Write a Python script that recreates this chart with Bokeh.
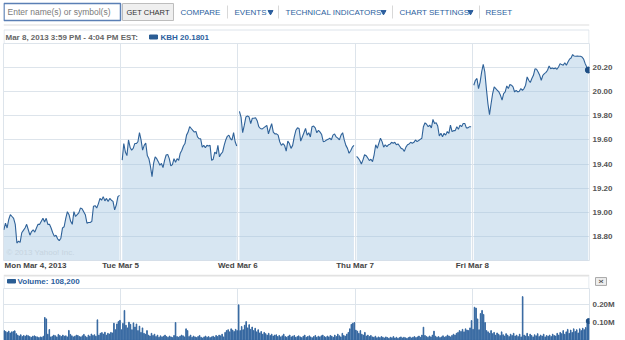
import numpy as np
from bokeh.plotting import figure
from bokeh.layouts import column
from bokeh.models import Range1d, FixedTicker, Label, Title
from bokeh.embed import file_html
from bokeh.resources import INLINE

FONT = "Liberation Sans"
LINK_BLUE = "#2d5f9e"
SERIES_BLUE = "#2f6299"
GRID = "#dde4eb"

# ---------------- data ----------------
day_labels = ["Mon Mar 4, 2013", "Tue Mar 5", "Wed Mar 6", "Thu Mar 7", "Fri Mar 8"]
price_ticks = [18.80, 19.00, 19.20, 19.40, 19.60, 19.80, 20.00, 20.20]
volume_ticks_k = [100, 200]
volume_tick_labels = ["0.10M", "0.20M"]
symbol = "KBH"
last_price = 20.1801
last_volume = 108200
header_text = "Mar 8, 2013 3:59 PM - 4:04 PM EST:"
toolbar_links = ["COMPARE", "EVENTS", "TECHNICAL INDICATORS", "CHART SETTINGS", "RESET"]

mon_price = [18.855, 18.91, 18.87, 18.94, 18.98, 18.965, 18.95, 18.90, 18.745, 18.76,
             18.75, 18.83, 18.85, 18.87, 18.90, 18.855, 18.81, 18.84, 18.855, 18.835,
             18.87, 18.90, 18.90, 18.925, 18.95, 18.92, 18.95, 18.90, 18.90, 18.87,
             18.83, 18.80, 18.81, 18.78, 18.765, 18.785, 18.87, 18.88, 18.95, 19.005,
             18.98, 18.925, 18.90, 19.005, 18.965, 18.98, 18.995, 19.035, 19.03, 19.005,
             18.98, 18.91, 18.915, 18.915, 18.925, 19.05, 19.055, 19.035, 19.07, 19.115,
             19.10, 19.13, 19.095, 19.115, 19.09, 19.115, 19.10, 19.09, 19.02, 19.06,
             19.13, 19.14]
tue_price = [19.433, 19.57, 19.50, 19.47, 19.60, 19.54, 19.515, 19.53, 19.57, 19.57,
             19.585, 19.66, 19.60, 19.515, 19.555, 19.575, 19.47, 19.445, 19.38, 19.296,
             19.405, 19.46, 19.445, 19.42, 19.39, 19.405, 19.37, 19.43, 19.475, 19.48,
             19.445, 19.385, 19.395, 19.445, 19.415, 19.445, 19.43, 19.49, 19.515, 19.55,
             19.57, 19.64, 19.665, 19.71, 19.695, 19.68, 19.665, 19.67, 19.625, 19.61,
             19.61, 19.54, 19.555, 19.535, 19.555, 19.55, 19.555, 19.43, 19.44, 19.50,
             19.485, 19.555, 19.46, 19.485, 19.50, 19.555, 19.60, 19.63, 19.64, 19.61,
             19.60, 19.66, 19.585, 19.55]
wed_price = [19.837, 19.79, 19.66, 19.72, 19.79, 19.80, 19.79, 19.735, 19.78, 19.78,
             19.785, 19.76, 19.71, 19.695, 19.69, 19.70, 19.71, 19.72, 19.65, 19.695,
             19.735, 19.665, 19.65, 19.65, 19.64, 19.585, 19.555, 19.57, 19.555, 19.507,
             19.59, 19.57, 19.53, 19.555, 19.625, 19.68, 19.70, 19.695, 19.59, 19.625,
             19.66, 19.695, 19.64, 19.66, 19.625, 19.71, 19.715, 19.70, 19.66, 19.68,
             19.665, 19.645, 19.585, 19.59, 19.60, 19.605, 19.615, 19.60, 19.64, 19.65,
             19.625, 19.615, 19.60, 19.64, 19.66, 19.60, 19.555, 19.53, 19.49, 19.51,
             19.54, 19.555]
thu_price = [19.463, 19.45, 19.43, 19.40, 19.435, 19.477, 19.47, 19.45, 19.43, 19.44,
             19.42, 19.477, 19.56, 19.53, 19.573, 19.614, 19.586, 19.54, 19.56, 19.545,
             19.56, 19.565, 19.58, 19.573, 19.58, 19.56, 19.567, 19.55, 19.53, 19.525,
             19.505, 19.54, 19.56, 19.567, 19.58, 19.573, 19.58, 19.60, 19.586, 19.595,
             19.605, 19.614, 19.71, 19.742, 19.73, 19.71, 19.723, 19.70, 19.77, 19.737,
             19.742, 19.715, 19.633, 19.655, 19.627, 19.655, 19.64, 19.67, 19.655, 19.723,
             19.67, 19.677, 19.677, 19.71, 19.688, 19.723, 19.71, 19.737, 19.737, 19.70,
             19.70, 19.71, 19.71]
fri_price = [20.054, 20.095, 20.11, 20.026, 20.08, 20.164, 20.228, 20.164, 20.026, 19.90,
             19.81, 19.90, 19.985, 20.04, 20.026, 20.012, 19.998, 19.97, 19.93, 19.985,
             19.998, 20.048, 20.026, 20.06, 20.054, 20.04, 19.998, 20.012, 19.998, 20.004,
             20.026, 20.012, 20.026, 20.054, 20.123, 20.095, 20.076, 20.11, 20.136, 20.19,
             20.186, 20.164, 20.136, 20.095, 20.136, 20.15, 20.16, 20.178, 20.214, 20.19,
             20.197, 20.19, 20.197, 20.186, 20.205, 20.233, 20.225, 20.22, 20.24, 20.22,
             20.247, 20.27, 20.28, 20.308, 20.296, 20.294, 20.296, 20.294, 20.294, 20.288,
             20.27, 20.233, 20.205, 20.1801]

# volume per 5-minute interval, thousands of shares
mon_vol_k = [55, 50, 45, 52, 42, 48, 50, 54, 38, 30,
             25, 32, 22, 28, 24, 30, 26, 22, 18, 24,
             26, 22, 20, 16, 20, 18, 24, 128, 120, 35,
             61, 20, 24, 30, 26, 20, 34, 28, 22, 30,
             24, 26, 20, 56, 34, 26, 20, 24, 30, 28,
             22, 20, 26, 34, 24, 18, 30, 24, 36, 28,
             32, 24, 115, 30, 40, 44, 36, 46, 30, 40,
             36, 45, 42, 96, 60, 92, 105, 112]
tue_vol_k = [60, 95, 167, 85, 70, 102, 90, 60, 98, 75,
             92, 55, 80, 45, 70, 40, 35, 55, 30, 25,
             40, 28, 35, 22, 30, 18, 26, 20, 24, 30,
             22, 18, 25, 20, 16, 28, 100, 22, 18, 24,
             30, 26, 20, 65, 55, 22, 30, 18, 25, 20,
             16, 22, 28, 18, 14, 20, 25, 18, 22, 16,
             20, 24, 18, 28, 22, 30, 26, 35, 20, 45,
             55, 60, 48, 65, 58, 50, 62, 55]
wed_vol_k = [198, 55, 78, 60, 85, 105, 70, 88, 62, 75,
             55, 68, 48, 60, 42, 50, 35, 45, 38, 30,
             40, 28, 35, 25, 30, 32, 22, 28, 20, 26,
             35, 22, 18, 25, 30, 20, 24, 28, 18, 22,
             26, 20, 16, 24, 30, 18, 22, 26, 20, 15,
             22, 28, 18, 24, 20, 26, 30, 22, 18, 25,
             20, 28, 24, 18, 30, 22, 35, 26, 20, 40,
             28, 24, 35, 45, 65, 90, 96, 100]
thu_vol_k = [58, 52, 40, 55, 35, 30, 45, 25, 30, 22,
             28, 20, 18, 24, 15, 20, 16, 22, 18, 14,
             20, 16, 12, 18, 15, 22, 14, 18, 12, 16,
             20, 14, 18, 15, 12, 16, 20, 14, 18, 22,
             16, 20, 25, 18, 30, 74, 28, 22, 18, 25,
             20, 30, 52, 24, 18, 22, 16, 20, 26, 18,
             22, 30, 25, 20, 28, 35, 30, 40, 45, 55,
             50, 62, 48, 65, 58, 55, 70, 111]
fri_vol_k = [62, 185, 180, 120, 60, 150, 167, 145, 100, 55,
             48, 40, 55, 38, 45, 30, 42, 35, 28, 48,
             32, 25, 38, 30, 22, 35, 28, 40, 25, 30,
             22, 35, 20, 244, 30, 25, 40, 22, 35, 28,
             20, 32, 26, 38, 22, 30, 25, 35, 20, 28,
             24, 30, 22, 35, 28, 25, 40, 30, 45, 38,
             55, 35, 48, 62, 40, 58, 45, 65, 50, 60,
             42, 65, 55, 68, 60, 72, 100, 108.2]

prices = [mon_price, tue_price, wed_price, thu_price, fri_price]
volumes = [mon_vol_k, tue_vol_k, wed_vol_k, thu_vol_k, fri_vol_k]

# all frames in the column share left=3 / right=589 (36 px right border for the axes)
LB, RB = 3, 36
FRAME_L, FRAME_R = LB, 625 - RB


def txt(p, x, y, text, size="8px", color="#555555", bold=False, align="left", **kw):
    p.add_layout(Label(x=x, y=y, text=text, text_font=FONT, text_font_size=size,
                       text_color=color, text_font_style="bold" if bold else "normal",
                       text_align=align, text_baseline="middle", **kw))


def pixel_fig(h):
    f = figure(width=625, height=h, x_range=Range1d(FRAME_L, FRAME_R), y_range=Range1d(h, 0),
               x_axis_location=None, y_axis_location=None, toolbar_location=None,
               output_backend="svg", min_border=0, min_border_left=LB, min_border_right=RB,
               min_border_top=0, min_border_bottom=0, outline_line_color=None)
    f.grid.visible = False
    return f


def style_axis(ax, color="#555555"):
    ax.major_tick_line_color = None
    ax.minor_tick_line_color = None
    ax.major_tick_out = 0
    ax.major_tick_in = 0
    ax.minor_tick_out = 0
    ax.axis_line_color = None
    ax.major_label_text_font = FONT
    ax.major_label_text_font_size = "8px"
    ax.major_label_text_font_style = "bold"
    ax.major_label_text_color = color


# ---------------- toolbar + header row ----------------
top = pixel_fig(43)
top.quad(left=[3.5], right=[120], top=[3], bottom=[20], fill_color="white",
         line_color="#5a7fb5", line_width=1.5)
txt(top, 7, 11.5, "Enter name(s) or symbol(s)", size="8.5px", color="#7a7a7a")
top.quad(left=[122], right=[173], top=[3], bottom=[20], fill_color="#efefef",
         line_color="#bdbdbd", line_width=1)
txt(top, 147.5, 11.5, "GET CHART", size="7.5px", color="#333333", align="center")
for name, lx in zip(toolbar_links, [180, 234, 285, 399, 485]):
    txt(top, lx, 11.5, name, size="8px", color=LINK_BLUE)
top.scatter(x=[270, 383, 470], y=[11.5, 11.5, 11.5], marker="inverted_triangle",
            size=5, color=LINK_BLUE)
top.segment(x0=[227, 278, 392, 479], y0=5, x1=[227, 278, 392, 479], y1=18,
            line_color="#d8d8d8", line_width=1)
top.segment(x0=[FRAME_L], y0=[24.5], x1=[FRAME_R], y1=[24.5], line_color="#dddddd", line_width=1)
top.segment(x0=[3.5, 588.5, 3.5], y0=[29.5, 29.5, 29.5], x1=[3.5, 588.5, 588.5], y1=[43, 43, 29.5],
            line_color=GRID, line_width=1)
txt(top, 5, 36.5, header_text, size="8px", color="#666666", bold=True)
top.quad(left=[149], right=[157], top=[34.5], bottom=[38.5], color="#2a5d94")
txt(top, 160, 36.5, f"{symbol} {last_price:.4f}", size="8px", color=LINK_BLUE, bold=True)

# ---------------- price chart ----------------
pp = figure(width=625, height=231, x_range=Range1d(0, 5), y_range=Range1d(18.60, 20.40),
            y_axis_location="right", toolbar_location=None, output_backend="svg",
            min_border_left=LB, min_border_right=RB, min_border_top=0, min_border_bottom=14,
            outline_line_color=GRID, background_fill_color="white")
mon_tick = 0.273
pp.xaxis.ticker = FixedTicker(ticks=[mon_tick, 1, 2, 3, 4])
pp.xaxis.major_label_overrides = {mon_tick: day_labels[0], 1: day_labels[1],
                                  2: day_labels[2], 3: day_labels[3], 4: day_labels[4]}
style_axis(pp.xaxis[0], "#444444")
pp.xaxis.major_label_standoff = 0

pp.yaxis.ticker = FixedTicker(ticks=price_ticks)
pp.yaxis.major_label_overrides = {t: f"{t:.2f}" for t in price_ticks}
style_axis(pp.yaxis[0])
pp.yaxis.major_label_standoff = 3

pp.ygrid.ticker = FixedTicker(ticks=price_ticks)
pp.xgrid.ticker = FixedTicker(ticks=[1, 2, 3, 4])
pp.grid.grid_line_color = GRID
pp.grid.grid_line_width = 1

for d, vals in enumerate(prices):
    start = d + (0.003 if d == 0 else 0.013)
    xs = np.linspace(start, d + 0.99, len(vals))
    pp.varea(x=xs, y1=18.60, y2=vals, fill_color="#9fc3df", fill_alpha=0.42)
    pp.line(xs, vals, line_color=SERIES_BLUE, line_width=1.1)
    if d == 4:
        pp.scatter([xs[-1]], [vals[-1]], size=6, color="#1f4f85")

pp.add_layout(Label(x=0.026, y=18.667, text="\u00a9 2013 Yahoo! Inc.", text_font=FONT,
                    text_font_size="8px", text_color="#c6d4e0", text_baseline="middle"))

# ---------------- volume header ----------------
vh = pixel_fig(14)
vh.quad(left=[FRAME_L], right=[FRAME_R], top=[0], bottom=[2], fill_color="#e2e2e2", line_color=None)
vh.segment(x0=[3.5, 588.5], y0=[2, 2], x1=[3.5, 588.5], y1=[14, 14], line_color=GRID)
vh.quad(left=[7], right=[15], top=[5], bottom=[8.5], color="#2a5d94")
txt(vh, 17, 7, f"Volume: {last_volume:,}", size="8px", color=LINK_BLUE, bold=True)
vh.add_layout(Title(text="x", text_font=FONT, text_font_size="7px", text_font_style="bold",
                    text_color="#555555", background_fill_color="#eeeeee",
                    border_line_color="#a8a8a8", align="center", standoff=12, offset=0,
                    padding=2), "right")

# ---------------- volume chart ----------------
vp = figure(width=625, height=52, x_range=Range1d(0, 5), y_range=Range1d(0, 289),
            y_axis_location="right", x_axis_location=None, toolbar_location=None,
            output_backend="svg", min_border_left=LB, min_border_right=RB,
            min_border_top=0, min_border_bottom=0, outline_line_color=GRID)
vp.yaxis.ticker = FixedTicker(ticks=volume_ticks_k)
vp.yaxis.major_label_overrides = dict(zip(volume_ticks_k, volume_tick_labels))
style_axis(vp.yaxis[0])
vp.yaxis.major_label_standoff = 3
vp.ygrid.ticker = FixedTicker(ticks=volume_ticks_k)
vp.xgrid.ticker = FixedTicker(ticks=[1, 2, 3, 4])
vp.grid.grid_line_color = GRID

for d, vals in enumerate(volumes):
    n = len(vals)
    xs = d + (np.arange(n) + 0.5) / n
    vp.vbar(x=xs, top=vals, bottom=0, width=0.005, color="#3567a0")
    if d == 4:
        vp.scatter([xs[-1]], [vals[-1]], size=5, color="#1f4f85")

layout = column(top, pp, vh, vp, spacing=0)
open("out.html", "w").write(file_html(layout, INLINE))
